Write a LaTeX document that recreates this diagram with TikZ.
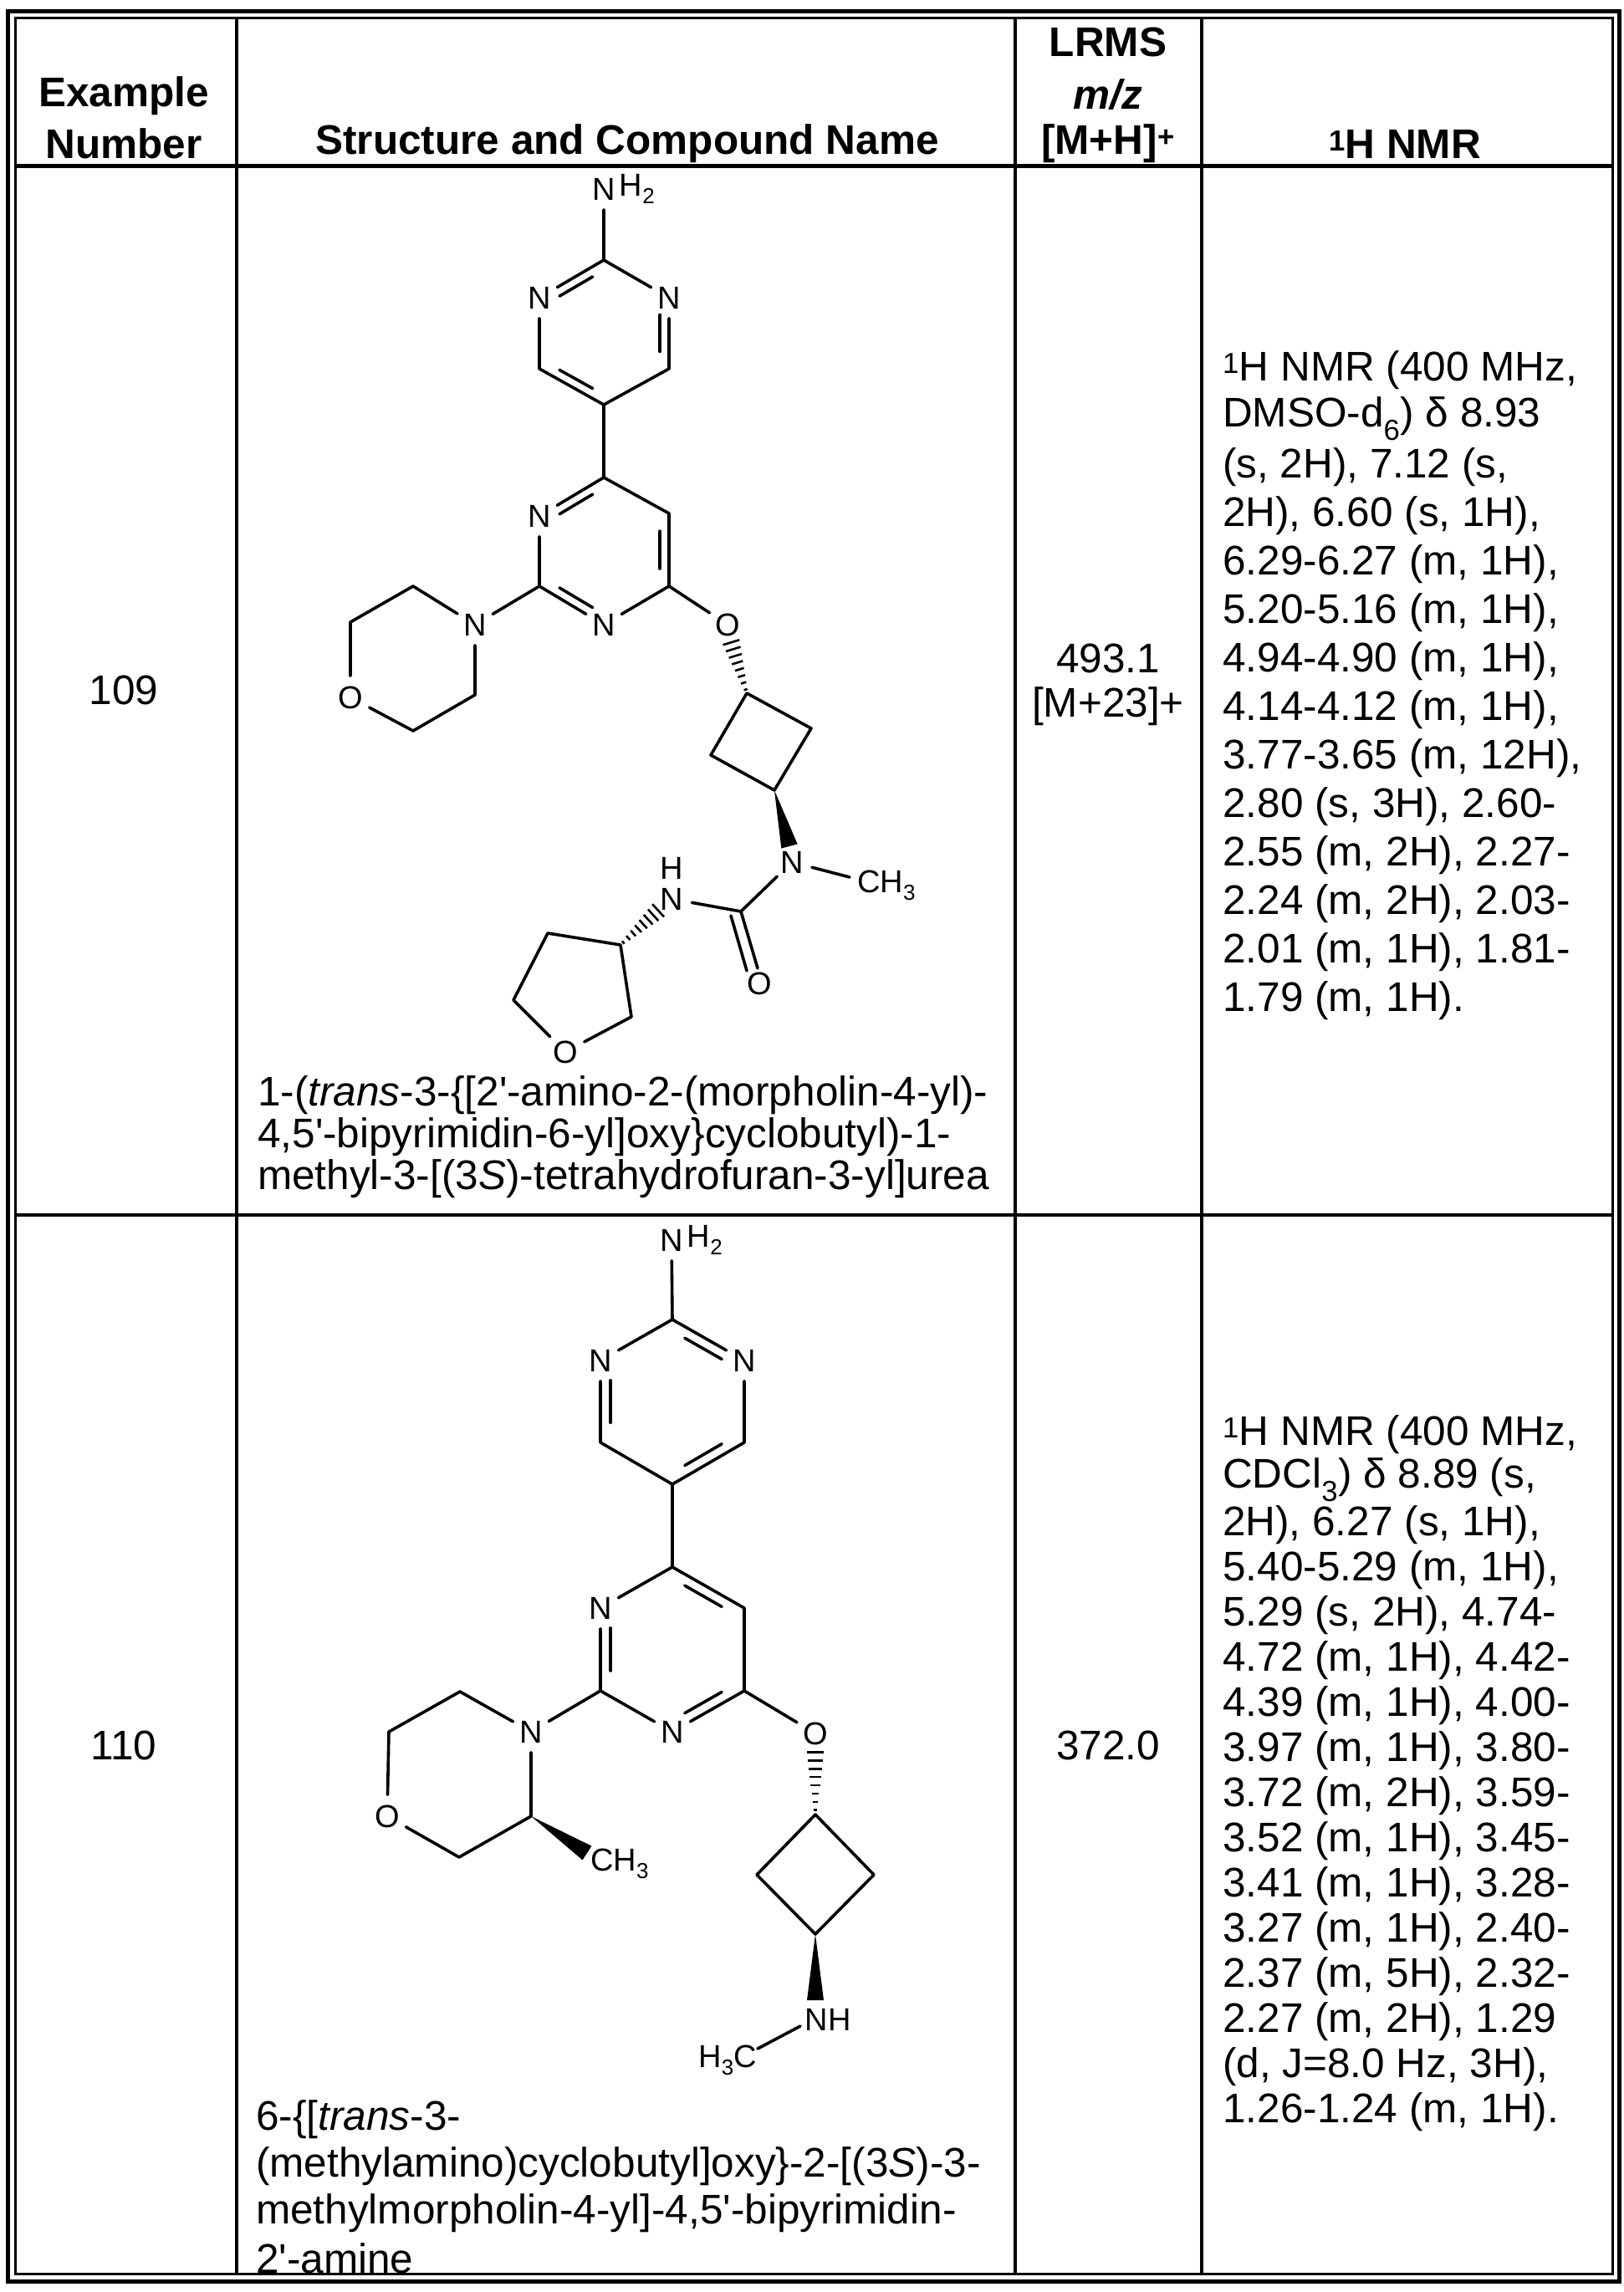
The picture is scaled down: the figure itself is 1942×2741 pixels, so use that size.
\documentclass[tikz,border=0pt]{standalone}
\usepackage{fontspec}
\setmainfont{Liberation Sans}
\usetikzlibrary{calc}
\newcommand\ap{\textquotesingle}
\newcommand\sbs[1]{\raisebox{-0.25em}{\fontsize{26}{26}\selectfont #1}}
\newcommand\dbl[3]{\draw[bond] ($(#1)!0.2!(#2)!0.14!(#3)$) -- ($(#2)!0.2!(#1)!0.14!(#3)$);}
\newcommand\hashb[2]{\foreach \t in {0.02,0.15,0.28,0.41,0.54,0.67,0.8,0.93}{\pgfmathsetmacro\w{1.5+9*(1-\t)}\draw[line width=2.6pt] ($(#1)!\t!(#2)!\w pt!90:(#2)$) -- ($(#1)!\t!(#2)!\w pt!-90:(#2)$);}}
\newcommand\wedgeb[2]{\fill ($(#1)$) -- ($(#2)!10pt!90:(#1)$) -- ($(#2)!10pt!-90:(#1)$) -- cycle;}
\begin{document}
\begin{tikzpicture}[x=1pt,y=-1pt,
  bond/.style={line width=3.6pt,line cap=round,line join=round},
  atom/.style={font=\fontsize{38}{38}\selectfont,inner sep=4pt,circle},
  lbl/.style={font=\fontsize{38}{38}\selectfont,inner sep=0pt},
  txt/.style={font=\fontsize{49.5}{58}\selectfont,inner sep=0pt,anchor=west},
  hdr/.style={font=\fontsize{49.5}{58}\selectfont\bfseries,inner sep=0pt},
  cen/.style={font=\fontsize{49.5}{58}\selectfont,inner sep=0pt}]
\useasboundingbox (0,0) rectangle (1942,2741);
\fill[white] (0,0) rectangle (1942,2741);
% table
\draw[line width=5pt] (9,13) rectangle (1936,2728);
\draw[line width=3pt] (18,21) rectangle (1928,2719);
\draw[line width=5pt] (18,198) -- (1928,198);
\draw[line width=4pt] (18,1453) -- (1928,1453);
\foreach \x in {283,1214,1437} \draw[line width=3.5pt] (\x,21) -- (\x,2719);
% header
\node[hdr] (h1) at (148,115) {Example};
\node[hdr] (h2) at (148,172) {Number};
\node[hdr] (h3) at (750,172) {Structure and Compound Name};
\node[hdr] (h4) at (1325,50) {LRMS};
\node[hdr] (h5) at (1325,113) {\itshape m/z};
\node[hdr] (h6) at (1325,172) {[M+H]\textsuperscript{+}};
\node[hdr] (h7) at (1680,172) {\textsuperscript{1}H NMR};
% row 1 texts
\node[cen] (r1) at (148,825) {109};
\node[cen] (r1a) at (1325,787) {493.1};
\node[cen] (r1b) at (1325,845) {[M+23]+};
\foreach \l [count=\i] in {{\textsuperscript{1}H NMR (400 MHz,},{DMSO-d\textsubscript{6}) δ 8.93},{(s, 2H), 7.12 (s,},{2H), 6.60 (s, 1H),},{6.29-6.27 (m, 1H),},{5.20-5.16 (m, 1H),},{4.94-4.90 (m, 1H),},{4.14-4.12 (m, 1H),},{3.77-3.65 (m, 12H),},{2.80 (s, 3H), 2.60-},{2.55 (m, 2H), 2.27-},{2.24 (m, 2H), 2.03-},{2.01 (m, 1H), 1.81-},{1.79 (m, 1H).}}
  \node[txt] (na\i) at (1462,{443+(\i-1)*58}) {\l};
\node[txt] (n1a) at (308,1310) {1-(\textit{trans}-3-\{[2\ap-amino-2-(morpholin-4-yl)-};
\node[txt] (n1b) at (308,1360) {4,5\ap-bipyrimidin-6-yl]oxy\}cyclobutyl)-1-};
\node[txt] (n1c) at (308,1410) {methyl-3-[(3\textit{S})-tetrahydrofuran-3-yl]urea};
% row 2 texts
\node[cen] (r2) at (148,2087) {110};
\node[cen] (r2a) at (1325,2087) {372.0};
\foreach \l [count=\i] in {{\textsuperscript{1}H NMR (400 MHz,},{CDCl\textsubscript{3}) δ 8.89 (s,},{2H), 6.27 (s, 1H),},{5.40-5.29 (m, 1H),},{5.29 (s, 2H), 4.74-},{4.72 (m, 1H), 4.42-},{4.39 (m, 1H), 4.00-},{3.97 (m, 1H), 3.80-},{3.72 (m, 2H), 3.59-},{3.52 (m, 1H), 3.45-},{3.41 (m, 1H), 3.28-},{3.27 (m, 1H), 2.40-},{2.37 (m, 5H), 2.32-},{2.27 (m, 2H), 1.29},{(d, J=8.0 Hz, 3H),},{1.26-1.24 (m, 1H).}}
  \node[txt] (nb\i) at (1462,{1716+(\i-1)*54}) {\l};
\node[txt] (n2a) at (306,2535) {6-\{[\textit{trans}-3-};
\node[txt] (n2b) at (306,2591) {(methylamino)cyclobutyl]oxy\}-2-[(3\textit{S})-3-};
\node[txt] (n2c) at (306,2647) {methylmorpholin-4-yl]-4,5\ap-bipyrimidin-};
\node[txt] (n2d) at (306,2701) {2\ap-amine};

% ===== molecule 1 =====
\node[atom] (a) at (722,226) {N};
\node[lbl,anchor=west] (aH) at ([xshift=-6pt]a.east) {H\sbs{2}};
\coordinate (p2) at (722,311);
\node[atom] (pn1) at (645,356) {N};
\node[atom] (pn3) at (800,356) {N};
\coordinate (p6) at (645,441); \coordinate (p4) at (800,441);
\coordinate (p5) at (722,484); \coordinate (pc) at (722,398);
\draw[bond] (a) -- (p2) -- (pn1) -- (p6) -- (p5) -- (p4) -- (pn3) -- (p2);
\dbl{p2}{pn1}{pc} \dbl{p6}{p5}{pc} \dbl{pn3}{p4}{pc}
\coordinate (q4) at (722,571); \node[atom] (qn3) at (645,617) {N};
\coordinate (q2) at (645,701); \node[atom] (qn1) at (722,747) {N};
\coordinate (q6) at (800,701); \coordinate (q5) at (800,614); \coordinate (qc) at (722,658);
\draw[bond] (p5) -- (q4) -- (qn3) -- (q2) -- (qn1) -- (q6) -- (q5) -- (q4);
\dbl{q4}{qn3}{qc} \dbl{q5}{q6}{qc} \dbl{q2}{qn1}{qc}
\node[atom] (mn) at (568,747) {N};
\coordinate (m1) at (494,701); \coordinate (m2) at (419,744);
\node[atom] (mo) at (419,834) {O};
\coordinate (m3) at (494,874); \coordinate (m4) at (568,831);
\draw[bond] (q2) -- (mn) -- (m1) -- (m2) -- (mo) -- (m3) -- (m4) -- (mn);
\node[atom] (oe) at (870,747) {O};
\draw[bond] (q6) -- (oe);
\coordinate (oeh) at (874,767);
\coordinate (c1) at (893,829); \coordinate (c2) at (970,871);
\coordinate (c3) at (926,945); \coordinate (c4) at (850,903);
\hashb{oeh}{c1}
\draw[bond] (c1) -- (c2) -- (c3) -- (c4) -- cycle;
\node[atom] (un) at (947,1031) {N};
\coordinate (unw) at (944,1012);
\wedgeb{c3}{unw}
\node[lbl,anchor=west] (me1) at (1025,1059) {CH\sbs{3}};
\coordinate (me1b) at (1016,1049);
\draw[bond] (un) -- (me1b);
\coordinate (uc) at (886,1090);
\node[atom] (uo) at (908,1176) {O};
\draw[bond] (un) -- (uc) -- (906,1158);
\draw[bond] (874,1095) -- (893,1161);
\node[atom] (nh) at (803,1075) {N};
\node[lbl] (nhH) at (803,1038) {H};
\draw[bond] (nh) -- (uc);
\coordinate (nhh) at (788,1088);
\coordinate (t3) at (742,1130); \coordinate (t2) at (655,1116);
\coordinate (t1) at (614,1196); \node[atom] (to) at (676,1258) {O};
\coordinate (t4) at (755,1216);
\hashb{nhh}{t3}
\draw[bond] (t3) -- (t2) -- (t1) -- (to) -- (t4) -- (t3);

% ===== molecule 2 =====
\node[atom] (b) at (803,1483) {N};
\node[lbl,anchor=west] (bH) at ([xshift=-6pt]b.east) {H\sbs{2}};
\coordinate (s2) at (804,1578);
\node[atom] (sn1) at (718,1627) {N};
\node[atom] (sn3) at (890,1627) {N};
\coordinate (s6) at (718,1725); \coordinate (s4) at (890,1725);
\coordinate (s5) at (804,1775); \coordinate (sc) at (804,1676);
\draw[bond] (b) -- (s2) -- (sn1) -- (s6) -- (s5) -- (s4) -- (sn3) -- (s2);
\dbl{s2}{sn3}{sc} \dbl{sn1}{s6}{sc} \dbl{s4}{s5}{sc}
\coordinate (u4) at (804,1874); \node[atom] (un3) at (718,1923) {N};
\coordinate (u2) at (718,2022); \node[atom] (un1) at (804,2071) {N};
\coordinate (u6) at (890,2022); \coordinate (u5) at (890,1923); \coordinate (uc2) at (804,1972);
\draw[bond] (s5) -- (u4) -- (un3) -- (u2) -- (un1) -- (u6) -- (u5) -- (u4);
\dbl{u4}{u5}{uc2} \dbl{un3}{u2}{uc2} \dbl{u6}{un1}{uc2}
\node[atom] (kn) at (635,2071) {N};
\coordinate (k1) at (550,2023); \coordinate (k2) at (465,2071);
\node[atom] (ko) at (463,2172) {O};
\coordinate (k3) at (549,2221); \coordinate (k4) at (635,2172);
\draw[bond] (u2) -- (kn) -- (k1) -- (k2) -- (ko) -- (k3) -- (k4) -- (kn);
\coordinate (kw) at (702,2216);
\wedgeb{k4}{kw}
\node[lbl,anchor=west] (me2) at (706,2229) {CH\sbs{3}};
\node[atom] (oe2) at (975,2073) {O};
\draw[bond] (u6) -- (oe2);
\coordinate (oe2h) at (975,2094);
\coordinate (d1) at (975,2170); \coordinate (d2) at (1045,2242);
\coordinate (d3) at (975,2313); \coordinate (d4) at (905,2242);
\hashb{oe2h}{d1}
\draw[bond] (d1) -- (d2) -- (d3) -- (d4) -- cycle;
\coordinate (dw) at (975,2392);
\wedgeb{d3}{dw}
\node[lbl] (nh2n) at (990,2415) {NH};
\node[lbl,anchor=east] (me3) at (905,2464) {H\sbs{3}C};
\coordinate (e1) at (957,2423); \coordinate (e2) at (906,2450);
\draw[bond] (e1) -- (e2);
\end{tikzpicture}
\end{document}
